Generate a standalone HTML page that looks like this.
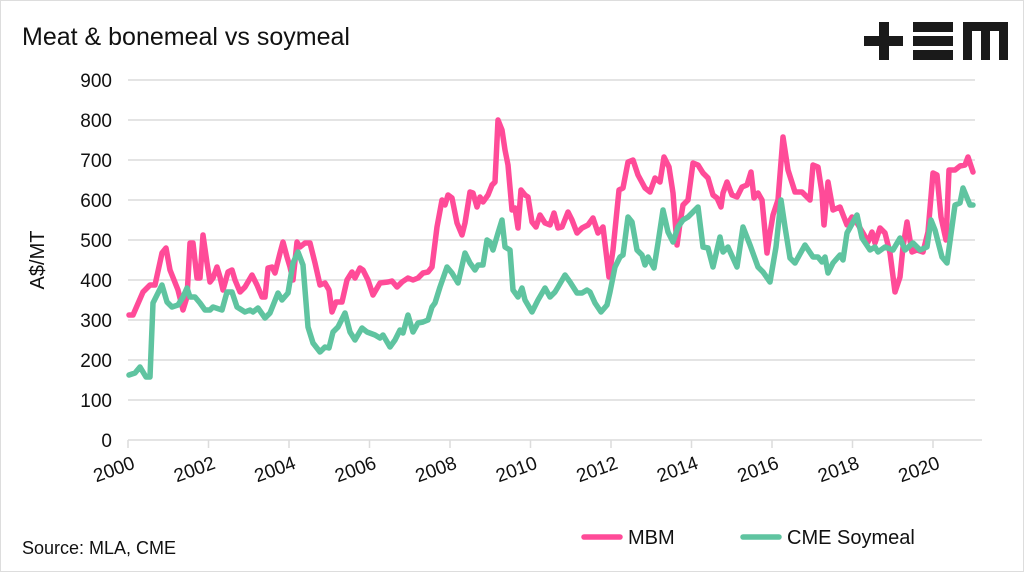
<!DOCTYPE html>
<html><head><meta charset="utf-8"><style>
html,body{margin:0;padding:0;background:#fff}
body{width:1024px;height:572px;overflow:hidden}
svg{display:block}
text{font-family:"Liberation Sans",sans-serif;fill:#111}
</style></head><body>
<svg width="1024" height="572" viewBox="0 0 1024 572">
<rect x="0.5" y="0.5" width="1023" height="571" fill="#fff" stroke="#ddd"/>
<text x="22" y="45" font-size="25">Meat &amp; bonemeal vs soymeal</text>
<g fill="#1a1a1a">
<rect x="864" y="36" width="39" height="10"/><rect x="879" y="22" width="10" height="38"/>
<rect x="913" y="22" width="40" height="10"/><rect x="913" y="36" width="40" height="10"/><rect x="913" y="50" width="40" height="10"/>
<path d="M963 22H1008V60H999V31H990V60H981V31H972V60H963Z"/>
</g>
<g stroke="#dcdcdc" stroke-width="1.5">
<line x1="128" x2="975" y1="80" y2="80"/><line x1="128" x2="975" y1="120" y2="120"/><line x1="128" x2="975" y1="160" y2="160"/><line x1="128" x2="975" y1="200" y2="200"/><line x1="128" x2="975" y1="240" y2="240"/><line x1="128" x2="975" y1="280" y2="280"/><line x1="128" x2="975" y1="320" y2="320"/><line x1="128" x2="975" y1="360" y2="360"/><line x1="128" x2="975" y1="400" y2="400"/><line x1="128" x2="982" y1="440" y2="440"/>
<path d="M128 440v8M208.5 440v8M289 440v8M369.5 440v8M450 440v8M530.5 440v8M611 440v8M691.5 440v8M772 440v8M852.5 440v8M933 440v8"/>
</g>
<g font-size="19" text-anchor="end">
<text x="112" y="87">900</text><text x="112" y="127">800</text><text x="112" y="167">700</text><text x="112" y="207">600</text><text x="112" y="247">500</text><text x="112" y="287">400</text><text x="112" y="327">300</text><text x="112" y="367">200</text><text x="112" y="407">100</text><text x="112" y="447">0</text>
</g>
<text transform="translate(44,260) rotate(-90)" font-size="20" text-anchor="middle">A$/MT</text>
<g font-size="19" text-anchor="end">
<text transform="translate(136,468) rotate(-20)">2000</text>
<text transform="translate(216.5,468) rotate(-20)">2002</text>
<text transform="translate(297,468) rotate(-20)">2004</text>
<text transform="translate(377.5,468) rotate(-20)">2006</text>
<text transform="translate(458,468) rotate(-20)">2008</text>
<text transform="translate(538.5,468) rotate(-20)">2010</text>
<text transform="translate(619,468) rotate(-20)">2012</text>
<text transform="translate(699.5,468) rotate(-20)">2014</text>
<text transform="translate(780,468) rotate(-20)">2016</text>
<text transform="translate(860.5,468) rotate(-20)">2018</text>
<text transform="translate(941,468) rotate(-20)">2020</text>
</g>
<g fill="none" stroke-width="5.5" stroke-linejoin="round" stroke-linecap="round">
<polyline stroke="#ff4b98" points="129,315 133,315 143,292 150,285 155,285 162,253 166,248 170,270 178,290 183,310 187,297 190,243 193,243 197,278 200,278 203,235 207,263 210,282 213,278 217,267 220,277 223,290 228,272 232,270 235,280 240,292 245,287 252,275 257,285 262,297 265,297 268,268 272,267 275,273 280,253 283,242 287,257 290,267 293,280 297,242 300,247 305,243 310,243 315,263 320,285 325,283 329,290 332,312 336,302 342,302 347,280 352,272 355,278 360,268 363,270 368,280 373,295 380,283 388,282 392,281 397,287 402,282 408,278 413,280 418,278 423,273 428,272 432,267 437,227 442,200 445,205 448,195 452,198 457,223 462,235 465,223 470,192 473,193 477,207 480,197 483,202 488,195 492,185 495,182 498,120 502,130 505,150 508,165 512,210 515,208 518,228 521,190 525,195 528,197 532,222 536,227 540,215 545,223 550,225 554,213 558,228 562,227 568,212 572,220 577,233 582,228 588,225 593,218 598,233 603,227 607,260 609,277 613,250 619,190 623,188 628,162 633,160 638,175 645,188 650,192 655,178 660,182 664,157 669,167 673,193 677,245 680,223 683,205 688,200 693,163 698,165 703,173 708,178 713,195 717,198 721,207 723,193 727,182 732,195 737,197 742,187 747,185 751,172 754,198 758,193 762,200 767,253 770,233 773,215 778,200 783,137 788,170 795,192 802,192 807,197 810,200 813,165 818,167 822,193 824,225 828,182 833,210 840,207 847,225 852,217 857,223 863,233 868,242 872,232 875,243 880,228 885,233 890,253 895,292 900,277 903,247 907,222 912,252 917,250 923,252 928,232 933,173 937,175 941,217 946,240 949,170 955,170 960,166 965,165 968,157 973,172"/>
<polyline stroke="#5fc4a0" points="129,375 135,373 140,367 146,377 150,377 153,303 158,293 162,285 167,302 172,307 178,305 183,297 187,288 190,297 195,297 200,303 205,310 210,310 213,307 222,310 227,292 232,292 237,307 245,312 250,310 253,312 258,308 265,318 270,313 278,293 282,300 288,293 293,263 298,252 303,265 308,327 313,343 320,352 325,347 329,348 333,332 338,327 345,313 350,332 355,340 362,328 367,332 375,335 380,338 383,335 390,347 395,340 400,330 403,333 408,315 413,332 418,323 423,322 428,320 432,307 435,303 440,287 447,267 452,273 458,283 465,253 470,263 475,270 478,265 483,265 487,240 490,242 493,250 498,233 502,220 505,247 510,250 513,290 518,297 522,288 525,300 532,312 538,300 545,288 550,297 555,292 558,287 565,275 570,282 577,293 582,293 587,290 590,292 595,303 601,312 607,305 610,292 615,267 620,257 623,255 628,217 632,222 637,250 642,255 645,265 648,257 654,268 658,243 663,210 668,232 673,242 678,227 683,220 688,217 693,212 698,207 703,247 708,248 713,267 720,237 723,252 728,247 737,267 743,227 750,245 758,267 763,272 770,282 776,247 781,200 785,227 790,258 795,263 805,245 813,257 818,257 822,262 825,257 828,273 833,263 840,255 843,260 847,233 857,215 862,238 870,250 875,247 878,252 885,247 893,250 900,238 905,250 913,243 920,250 927,247 931,220 935,230 942,257 947,263 955,205 960,203 963,188 970,205 973,205"/>
<line x1="584" y1="537" x2="620" y2="537" stroke="#ff4b98"/>
<line x1="743" y1="537" x2="779" y2="537" stroke="#5fc4a0"/>
</g>
<text x="628" y="544" font-size="20">MBM</text>
<text x="787" y="544" font-size="20">CME Soymeal</text>
<text x="22" y="554" font-size="18">Source: MLA, CME</text>
</svg>
</body></html>
